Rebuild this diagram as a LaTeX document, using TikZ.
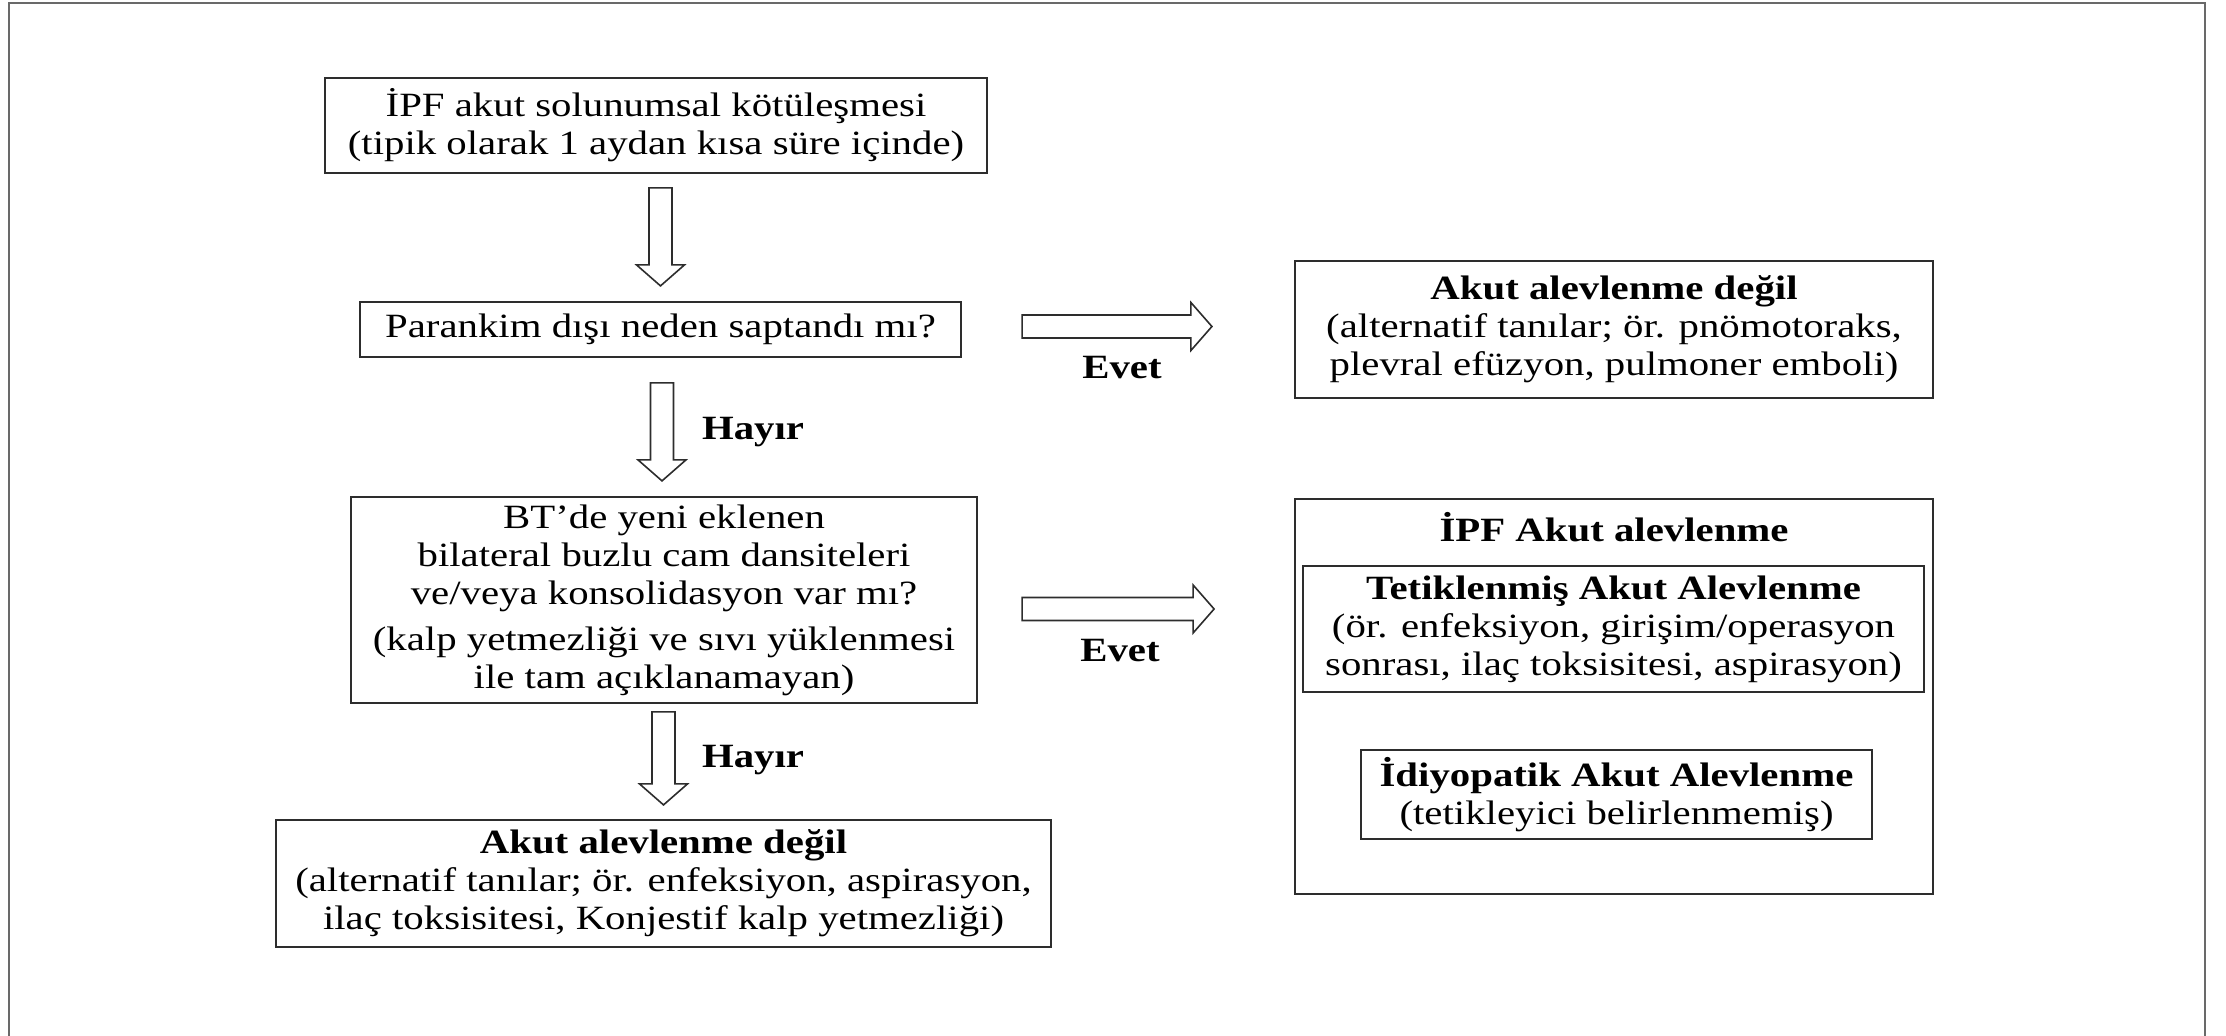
\documentclass[tikz,border=0pt]{standalone}
\usepackage{fontspec}
\setmainfont{Liberation Serif}[FakeStretch=1.2]
\usetikzlibrary{calc}

\definecolor{boxgray}{RGB}{45,45,45}
\definecolor{framegray}{RGB}{105,105,105}

\tikzset{
  box/.style={draw=boxgray, line width=1.1pt, align=center, inner sep=0pt,
    font=\fontsize{17}{19}\selectfont},
  lbl/.style={font=\fontsize{17}{19}\selectfont\bfseries},
  blockline/.style={draw=boxgray, line width=0.8pt, fill=white, line join=miter},
}

% block arrow between two coordinates
\newcommand{\blockarrow}[2]{%
  \coordinate (ka) at ($(#2)!10.5pt!(#1)$);
  \draw[blockline] ($(#1)!5.75pt!90:(#2)$) -- ($(ka)!5.75pt!90:(#2)$) -- ($(ka)!12pt!90:(#2)$)
    -- (#2) -- ($(ka)!12pt!-90:(#2)$) -- ($(ka)!5.75pt!-90:(#2)$) -- ($(#1)!5.75pt!-90:(#2)$) -- cycle;}

\begin{document}
\begin{tikzpicture}[x=0.5pt,y=0.5pt,yscale=-1,xscale=1]
\useasboundingbox (0,0) rectangle (2226,1036);

%Frame
\draw[framegray, line width=1.2pt] (9,1040) -- (9,3) -- (2205,3) -- (2205,1040);

%Left column
\node[box, minimum width=331pt, minimum height=47.5pt] (start) at (656,125.5)
  {İPF akut solunumsal kötüleşmesi\\(tipik olarak 1 aydan kısa süre içinde)};
\node[box, minimum width=300.5pt, minimum height=27.5pt] (q1) at (660.5,329.5)
  {Parankim dışı neden saptandı mı?};
\node[box, minimum width=313pt, minimum height=103pt] (q2) at (664,600)
  {BT’de yeni eklenen\\bilateral buzlu cam dansiteleri\\ve/veya konsolidasyon var mı?\\[4pt]
   (kalp yetmezliği ve sıvı yüklenmesi\\ile tam açıklanamayan)};
\node[box, minimum width=387.5pt, minimum height=63.5pt] (notae2) at (663.5,883.5)
  {\textbf{Akut alevlenme değil}\\(alternatif tanılar; ör. enfeksiyon, aspirasyon,\\ilaç toksisitesi, Konjestif kalp yetmezliği)};

%Right column
\node[box, minimum width=319pt, minimum height=68.5pt] (notae1) at (1614,329.5)
  {\textbf{Akut alevlenme değil}\\(alternatif tanılar; ör. pnömotoraks,\\plevral efüzyon, pulmoner emboli)};
\node[box, minimum width=319pt, minimum height=197.5pt] (ipf) at (1614,696.5) {};
\node[lbl] (ipftitle) at (1614,527) {İPF Akut alevlenme};
\node[box, minimum width=310.5pt, minimum height=63pt] (trig) at (1613.5,629)
  {\textbf{Tetiklenmiş Akut Alevlenme}\\(ör. enfeksiyon, girişim/operasyon\\sonrası, ilaç toksisitesi, aspirasyon)};
\node[box, minimum width=255.5pt, minimum height=44.5pt] (idio) at (1616.5,794.5)
  {\textbf{İdiyopatik Akut Alevlenme}\\(tetikleyici belirlenmemiş)};

%Arrows
\coordinate (a1s) at ($(q1.north)+(0,-113)$);
\coordinate (a1e) at ($(q1.north)+(0,-15)$);
\coordinate (a2s) at ($(q2.north)+(-2,-113)$);
\coordinate (a2e) at ($(q2.north)+(-2,-15)$);
\coordinate (a3s) at ($(notae2.north)+(0,-107)$);
\coordinate (a3e) at ($(notae2.north)+(0,-14)$);
\coordinate (e1s) at ($(q1.east)+(60,-3)$);
\coordinate (e1e) at ($(notae1.west)+(-82,-3)$);
\coordinate (e2s) at ($(q2.east)+(44,9)$);
\coordinate (e2e) at ($(q2.east)+(236,9)$);
\blockarrow{a1s}{a1e}
\blockarrow{a2s}{a2e}
\blockarrow{a3s}{a3e}
\blockarrow{e1s}{e1e}
\blockarrow{e2s}{e2e}

% Text Node
\node[lbl] (no1) at (753,432) {Hayır};
% Text Node
\node[lbl] (no2) at (753,760) {Hayır};
% Text Node
\node[lbl] (yes1) at (1122,368) {Evet};
% Text Node
\node[lbl] (yes2) at (1120,651) {Evet};

\end{tikzpicture}
\end{document}
